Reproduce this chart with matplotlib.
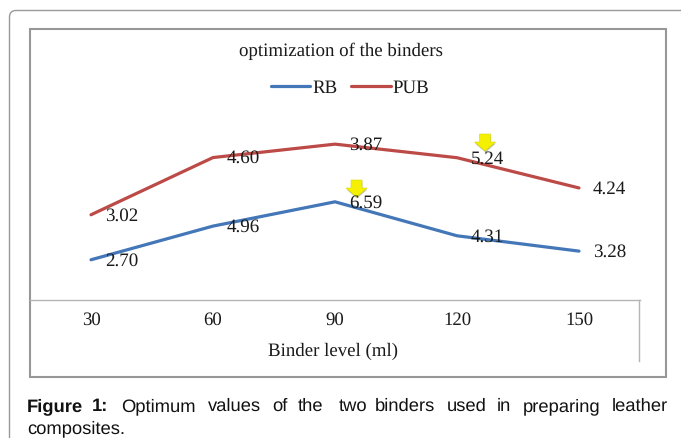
import matplotlib
matplotlib.use('Agg')
import matplotlib.pyplot as plt
import numpy as np
from matplotlib.patches import PathPatch, Polygon, Rectangle
from matplotlib.path import Path

binder_levels = ['30', '60', '90', '120', '150']
rb_values = [2.70, 4.96, 6.59, 4.31, 3.28]
pub_values = [3.02, 4.60, 3.87, 5.24, 4.24]

W, H = 681, 438
SERIF = 'Liberation Serif'
SANS = 'Liberation Sans'

plt.rcParams['text.hinting'] = 'none'

fig = plt.figure(figsize=(W / 100, H / 100), dpi=100, facecolor='white')

# page layer in pixel coords, y going down
page = fig.add_axes([0, 0, 1, 1])
page.set_xlim(0, W)
page.set_ylim(H, 0)
page.axis('off')

# rounded frame of the page, open at right and bottom
frame = Path([(9.5, H), (9.5, 17), (9.5, 10.5), (16, 10.5), (W, 10.5)],
             [Path.MOVETO, Path.LINETO, Path.CURVE3, Path.CURVE3, Path.LINETO])
page.add_patch(PathPatch(frame, fill=False, edgecolor='#999999', lw=1.0))

# chart box
page.add_patch(Rectangle((29.5, 29), 636, 348, fill=False, edgecolor='#979797', lw=1.5))
page.plot([639, 639], [300, 361], color='#b5b5b5', lw=1.0)

# chart axes, zero sits at y=300 and one unit is 14.9 px
ax_left, ax_right, ax_base, ax_top = 30, 640, 300, 30
ax = fig.add_axes([ax_left / W, 1 - ax_base / H, (ax_right - ax_left) / W, (ax_base - ax_top) / H])
ax.patch.set_alpha(0)
ax.set_xlim(-0.5, 4.5)
ax.set_ylim(0, (ax_base - ax_top) / 14.9)
for s in ['top', 'left', 'right']:
    ax.spines[s].set_visible(False)
ax.spines['bottom'].set_color('#b5b5b5')
ax.spines['bottom'].set_linewidth(1.0)
ax.set_yticks([])

x = np.arange(len(binder_levels))
rb_line = np.array(rb_values)
# the Excel chart was a stacked line, so PUB rides on top of RB
pub_line = rb_line + np.array(pub_values)

ax.plot(x, rb_line, color='#4477B8', lw=2.3, solid_capstyle='round', solid_joinstyle='round', label='RB')
ax.plot(x, pub_line, color='#BC4A47', lw=2.3, solid_capstyle='round', solid_joinstyle='round', label='PUB')

for i in range(len(x)):
    ax.annotate('%.2f' % rb_values[i], (x[i], rb_line[i]), xytext=(10, -0.7), textcoords='offset points',
                ha='left', va='center', family=SERIF, fontsize=13.7, color='#1a1a1a')
    ax.annotate('%.2f' % pub_values[i], (x[i], pub_line[i]), xytext=(10, -0.7), textcoords='offset points',
                ha='left', va='center', family=SERIF, fontsize=13.7, color='#1a1a1a')

ax.set_xticks(x)
ax.set_xticklabels(binder_levels, family=SERIF, fontsize=13.5, color='#1a1a1a')
ax.tick_params(axis='x', length=0, pad=8.5)


def yellow_arrow(px, py):
    # px is the middle, py the top of the arrow, in page pixels
    pts = [(px - 5.5, py), (px + 5.5, py), (px + 5.5, py + 8), (px + 10.5, py + 8), (px, py + 17),
           (px - 10.5, py + 8), (px - 5.5, py + 8)]
    shadow = [(a + 0.5, b + 1.5) for a, b in pts]
    page.add_patch(Polygon(shadow, closed=True, facecolor='#8a8a60', edgecolor='none', alpha=0.5, zorder=5))
    page.add_patch(Polygon(pts, closed=True, facecolor='#F4F000', edgecolor='#d8d800', lw=0.4, zorder=6))


yellow_arrow(356.5, 180)
yellow_arrow(485, 134)

leg = ax.legend(loc='center', bbox_to_anchor=(0.525, (ax_base - 88) / (ax_base - ax_top)), ncol=2, frameon=False,
                prop={'family': SERIF, 'size': 13.6}, handlelength=2.07, handletextpad=0.1, columnspacing=0.74,
                labelcolor='#1a1a1a')

page.text(341, 51.5, 'optimization of the binders', family=SERIF, fontsize=13.6, ha='center', va='center', color='#1a1a1a')
page.text(333.5, 351, 'Binder level (ml)', family=SERIF, fontsize=13.6, ha='center', va='center', color='#1a1a1a')

# caption, justified in the source so each word is placed on its own
caption_bold = [('Figure', 27), ('1:', 92)]
caption_words = [('Optimum', 121), ('values', 208), ('of', 272), ('the', 298), ('two', 339), ('binders', 375),
                 ('used', 447), ('in', 497), ('preparing', 523), ('leather', 612)]
for word, px in caption_bold:
    page.text(px, 411, word, family=SANS, fontsize=13.2, fontweight='bold', ha='left', va='baseline', color='#111111')
for word, px in caption_words:
    page.text(px, 411, word, family=SANS, fontsize=13.2, ha='left', va='baseline', color='#111111')
page.text(27, 433, 'composites.', family=SANS, fontsize=13.2, ha='left', va='baseline', color='#111111')

fig.savefig('out.png', dpi=100)
